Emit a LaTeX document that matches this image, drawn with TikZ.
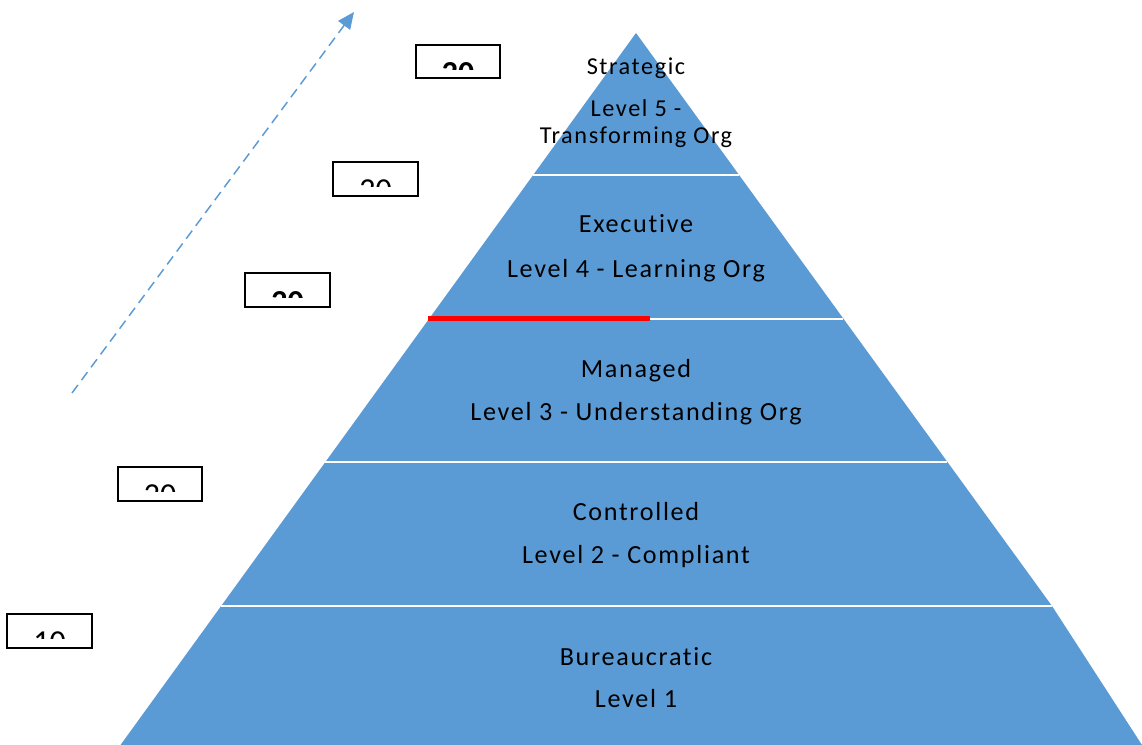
\documentclass[tikz,border=0pt]{standalone}
\usepackage{fontspec}
\setmainfont{Carlito}
\newfontfamily\lvlfont{Carlito}[LetterSpace=6.5,Ligatures=NoCommon]
\usetikzlibrary{arrows.meta}
\definecolor{pyr}{HTML}{5B9BD5}
\begin{document}
\begin{tikzpicture}[x=0.75pt,y=-0.75pt,
  lvl/.style={anchor=base, inner sep=0pt, font=\lvlfont\fontsize{19.6}{21}\selectfont, text=black},
  lvltop/.style={lvl, font=\lvlfont\fontsize{18.2}{20}\selectfont},
  numbox/.style={draw=black, line width=1.5pt},
  num/.style={anchor=north, inner sep=0pt, font=\fontsize{24}{26}\selectfont},
  divider/.style={draw=white, line width=1.1pt},
  trend/.style={draw=pyr, line width=1.1pt, dash pattern=on 7.5pt off 4.5pt, -{Triangle[length=12.5pt,width=11pt]}}]
\fill[white] (0,0) rectangle (1142,745);
\useasboundingbox (0,0) rectangle (1142,745);
% pyramid
\fill[pyr] (636,33) -- (1052,606) -- (1142,745) -- (120.5,745) -- cycle;
\draw[divider] (533.1,175) -- (738.9,175);
\draw[divider] (428.8,319) -- (843.2,319);
\draw[divider] (325.2,462) -- (946.8,462);
\draw[divider] (220.9,606) -- (1051.5,606);
% red line
\draw[red, line width=3.75pt] (428,318) -- (650,318);
% texts
\node[lvltop] (t5a) at (636,75) {Strategic};
\node[lvltop] (t5b) at (636,117) {Level 5 -};
\node[lvltop] (t5c) at (636,144) {Transforming Org};
\node[lvl] (t4a) at (636,233) {Executive};
\node[lvl] (t4b) at (636,278) {Level 4 - Learning Org};
\node[lvl] (t3a) at (636,377) {Managed};
\node[lvl] (t3b) at (636,420) {Level 3 - Understanding Org};
\node[lvl] (t2a) at (636,520) {Controlled};
\node[lvl] (t2b) at (636,563) {Level 2 - Compliant};
\node[lvl] (t1a) at (636,665) {Bureaucratic};
\node[lvl] (t1b) at (636,707) {Level 1};
% clipped number boxes
\foreach \xa/\ya/\xb/\yb/\ty/\cy/\t/\f/\i in {
  416/45/500/78/62/69.5/20/\bfseries/1,
  333/162/418/196/179/186.5/20/\mdseries/2,
  245/273/330/307/291/297.5/20/\bfseries/3,
  118/467/202/501/484/491/20/\mdseries/4,
  7/614/92/648/631/638/10/\mdseries/5}{
  \begin{scope}
    \clip (\xa,\ya) rectangle (\xb,\cy);
    \node[num, font=\fontsize{24}{26}\selectfont\f] (n\i) at ({(\xa+\xb)/2},\ty) {\t};
  \end{scope}
  \draw[numbox] (\xa,\ya) rectangle (\xb,\yb);
}
% dashed arrow
\coordinate (arrS) at (72,393);
\coordinate (arrE) at (354,12);
\draw[trend] (arrS) -- (arrE);
\end{tikzpicture}
\end{document}
